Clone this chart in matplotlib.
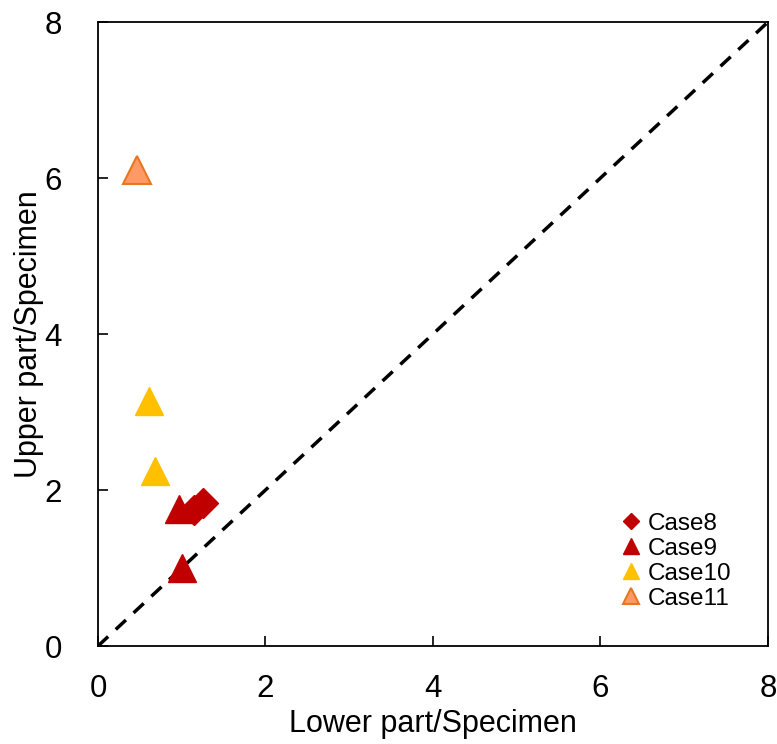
import matplotlib
matplotlib.use("Agg")
import matplotlib.pyplot as plt

plt.rcParams["font.family"] = ["Liberation Sans", "DejaVu Sans"]

# data
case8_x = [1.15, 1.25]
case8_y = [1.75, 1.83]
case9_x = [0.97, 1.00]
case9_y = [1.76, 1.00]
case10_x = [0.61, 0.68]
case10_y = [3.14, 2.25]
case11_x = [0.47]
case11_y = [6.10]
ticks = [0, 2, 4, 6, 8]

fig = plt.figure(figsize=(7.77, 7.44), dpi=100)
ax = fig.add_axes([0.1261, 0.1317, 0.8623, 0.8387])

# 1:1 reference line
ax.plot([0, 8], [0, 8], color="black", lw=2.5, ls=(0, (4, 3)), zorder=1)

ax.plot(case8_x, case8_y, ls="none", marker="D", ms=15, color="#C00000",
        mec="#C00000", label="Case8", zorder=3)
ax.plot(case9_x, case9_y, ls="none", marker="^", ms=20, color="#C00000",
        mec="#C00000", label="Case9", zorder=3)
ax.plot(case10_x, case10_y, ls="none", marker="^", ms=20, color="#FFC000",
        mec="#FFC000", label="Case10", zorder=3)
ax.plot(case11_x, case11_y, ls="none", marker="^", ms=20, color="#FF9966",
        mec="#E87722", mew=1.5, label="Case11", zorder=3)

ax.set_xlim(0, 8)
ax.set_ylim(0, 8)
ax.set_xticks(ticks)
ax.set_yticks(ticks)
ax.tick_params(direction="in", length=7, width=1.2, labelsize=22.5)
ax.tick_params(axis="x", pad=20)
ax.tick_params(axis="y", pad=26)
for sp in ax.spines.values():
    sp.set_linewidth(1.3)

ax.set_xlabel("Lower part/Specimen", fontsize=22, labelpad=4)
ax.set_ylabel("Upper part/Specimen", fontsize=22, labelpad=0)

leg = ax.legend(loc="lower right", frameon=False, fontsize=17.5,
                handletextpad=0.1, labelspacing=0.12, markerscale=0.55,
                borderaxespad=1.1, handlelength=1.2)

fig.savefig("out.png", dpi=100)
